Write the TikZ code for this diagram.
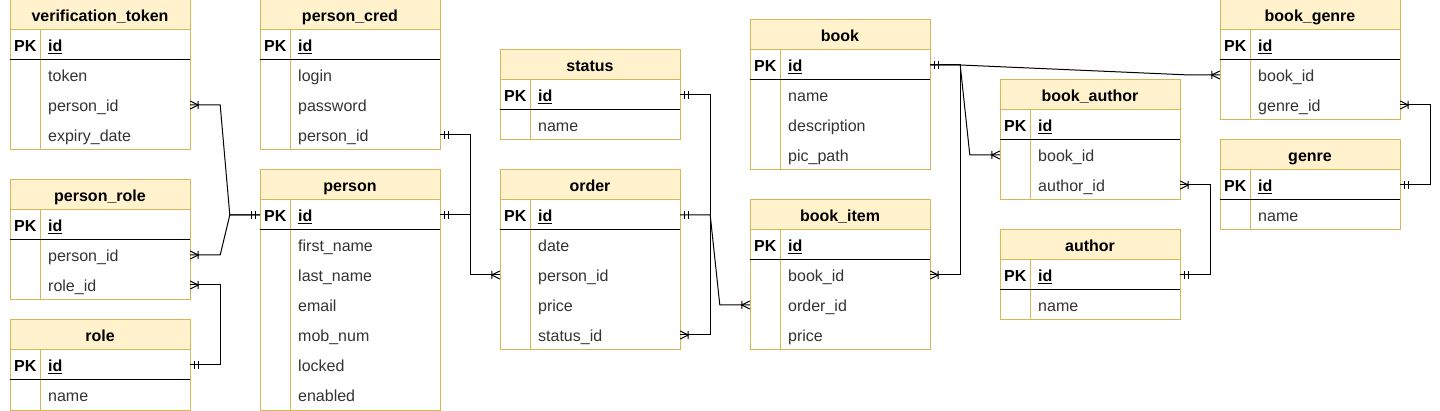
\documentclass[tikz,border=0pt]{standalone}
\usepackage{fontspec}
\setmainfont{Liberation Sans}
\usetikzlibrary{calc,decorations.markings}
\definecolor{hdrfill}{HTML}{FFF2CC}
\definecolor{bdr}{HTML}{D6B656}
\definecolor{fldtxt}{HTML}{333333}
\tikzset{
  hdrbox/.style={rectangle, fill=hdrfill, minimum width=180pt, minimum height=30pt, inner sep=0pt},
  rowbox/.style={rectangle, fill=white, minimum width=180pt, minimum height=30pt, inner sep=0pt},
  ttl/.style={font=\bfseries\fontsize{16}{19}\selectfont, anchor=base, inner sep=0pt, text=black},
  pktxt/.style={font=\bfseries\fontsize{16}{19}\selectfont, anchor=base west, inner sep=0pt, text=black},
  fld/.style={font=\fontsize{16}{19}\selectfont, anchor=base west, inner sep=0pt, text=fldtxt},
  bdline/.style={draw=bdr, line width=1pt},
  pkline/.style={draw=black, line width=1pt},
  conn/.style={draw=black, line width=1pt},
  one start/.style={postaction={decorate, decoration={markings, mark=at position 0 with {\draw[line width=1pt] (4pt,-4pt)--(4pt,4pt) (8pt,-4pt)--(8pt,4pt);}}}},
  many start/.style={postaction={decorate, decoration={markings, mark=at position 0 with {\draw[line width=1pt] (0pt,4pt)--(8pt,0pt)--(0pt,-4pt) (8pt,-4pt)--(8pt,4pt);}}}},
  one end/.style={postaction={decorate, decoration={markings, mark=at position 1 with {\draw[line width=1pt] (-4pt,-4pt)--(-4pt,4pt) (-8pt,-4pt)--(-8pt,4pt);}}}},
  many end/.style={postaction={decorate, decoration={markings, mark=at position 1 with {\draw[line width=1pt] (0pt,4pt)--(-8pt,0pt)--(0pt,-4pt) (-8pt,-4pt)--(-8pt,4pt);}}}},
}
% #1 name, #2 x, #3 y, #4 title
\newcommand\tblhead[4]{%
  \node[hdrbox] (#1) at (#2+90,#3+15) {};
  \node[ttl] (#1-t) at (#2+90,#3+21.5) {#4};
  \node[rowbox] (#1-id) at (#2+90,#3+45) {};
  \node[pktxt] (#1-pk) at (#2+4,#3+51.5) {PK};
  \node[pktxt] (#1-idt) at (#2+38,#3+51.5) {\underline{id}};
}
% #1 name, #2 x, #3 y, #4 index, #5 key, #6 text
\newcommand\tblrow[6]{%
  \node[rowbox] (#1-#5) at (#2+90,#3+45+30*#4) {};
  \node[fld] (#1-#5-t) at (#2+38,#3+51.5+30*#4) {#6};
}
% #1 x, #2 y, #3 number of field rows
\newcommand\tblframe[3]{%
  \draw[bdline] (#1,#2) rectangle (#1+180,#2+60+30*#3);
  \draw[bdline] (#1,#2+30) -- (#1+180,#2+30);
  \draw[bdline] (#1+30,#2+30) -- (#1+30,#2+60+30*#3);
  \draw[pkline] (#1,#2+60) -- (#1+180,#2+60);
}
\begin{document}
\begin{tikzpicture}[x=1pt,y=-1pt]
\useasboundingbox (0,0) rectangle (1440,411);
% verification_token
\tblhead{vt}{10}{0}{verification\_token}
\tblrow{vt}{10}{0}{1}{tok}{token}
\tblrow{vt}{10}{0}{2}{pid}{person\_id}
\tblrow{vt}{10}{0}{3}{exp}{expiry\_date}
\tblframe{10}{0}{3}
% person_cred
\tblhead{pc}{260}{0}{person\_cred}
\tblrow{pc}{260}{0}{1}{login}{login}
\tblrow{pc}{260}{0}{2}{pwd}{password}
\tblrow{pc}{260}{0}{3}{pid}{person\_id}
\tblframe{260}{0}{3}
% person_role
\tblhead{pr}{10}{180}{person\_role}
\tblrow{pr}{10}{180}{1}{pid}{person\_id}
\tblrow{pr}{10}{180}{2}{rid}{role\_id}
\tblframe{10}{180}{2}
% role
\tblhead{role}{10}{320}{role}
\tblrow{role}{10}{320}{1}{name}{name}
\tblframe{10}{320}{1}
% person
\tblhead{p}{260}{170}{person}
\tblrow{p}{260}{170}{1}{fn}{first\_name}
\tblrow{p}{260}{170}{2}{ln}{last\_name}
\tblrow{p}{260}{170}{3}{em}{email}
\tblrow{p}{260}{170}{4}{mob}{mob\_num}
\tblrow{p}{260}{170}{5}{lock}{locked}
\tblrow{p}{260}{170}{6}{en}{enabled}
\tblframe{260}{170}{6}
% status
\tblhead{st}{500}{50}{status}
\tblrow{st}{500}{50}{1}{name}{name}
\tblframe{500}{50}{1}
% order
\tblhead{ord}{500}{170}{order}
\tblrow{ord}{500}{170}{1}{date}{date}
\tblrow{ord}{500}{170}{2}{pid}{person\_id}
\tblrow{ord}{500}{170}{3}{price}{price}
\tblrow{ord}{500}{170}{4}{sid}{status\_id}
\tblframe{500}{170}{4}
% book
\tblhead{bk}{750}{20}{book}
\tblrow{bk}{750}{20}{1}{name}{name}
\tblrow{bk}{750}{20}{2}{desc}{description}
\tblrow{bk}{750}{20}{3}{pic}{pic\_path}
\tblframe{750}{20}{3}
% book_item
\tblhead{bi}{750}{200}{book\_item}
\tblrow{bi}{750}{200}{1}{bid}{book\_id}
\tblrow{bi}{750}{200}{2}{oid}{order\_id}
\tblrow{bi}{750}{200}{3}{price}{price}
\tblframe{750}{200}{3}
% book_author
\tblhead{ba}{1000}{80}{book\_author}
\tblrow{ba}{1000}{80}{1}{bid}{book\_id}
\tblrow{ba}{1000}{80}{2}{aid}{author\_id}
\tblframe{1000}{80}{2}
% author
\tblhead{au}{1000}{230}{author}
\tblrow{au}{1000}{230}{1}{name}{name}
\tblframe{1000}{230}{1}
% book_genre
\tblhead{bg}{1220}{0}{book\_genre}
\tblrow{bg}{1220}{0}{1}{bid}{book\_id}
\tblrow{bg}{1220}{0}{2}{gid}{genre\_id}
\tblframe{1220}{0}{2}
% genre
\tblhead{gn}{1220}{140}{genre}
\tblrow{gn}{1220}{140}{1}{name}{name}
\tblframe{1220}{140}{1}
% connectors
\draw[conn, many start, one end] (vt-pid.east) -- ++(30,0) -- ($(p-id.west)+(-30,0)$) -- (p-id.west);
\draw[conn, many start, one end] (pr-pid.east) -- ++(30,0) -- ($(p-id.west)+(-30,0)$) -- (p-id.west);
\draw[conn, one start, one end] (pc-pid.east) -- ++(30,0) |- (p-id.east);
\draw[conn, one start, many end] (p-id.east) -- ++(30,0) |- (ord-pid.west);
\draw[conn, one start, many end] (role-id.east) -- ++(30,0) |- (pr-rid.east);
\draw[conn, one start, many end] (st-id.east) -- ++(30,0) |- (ord-sid.east);
\draw[conn, one start, many end] (ord-id.east) -- ++(30,0) -- ($(bi-oid.west)+(-30,0)$) -- (bi-oid.west);
\draw[conn, one start, many end] (bk-id.east) -- ++(30,0) |- (bi-bid.east);
\draw[conn, one start, many end] (bk-id.east) -- ++(30,0) -- ($(ba-bid.west)+(-30,0)$) -- (ba-bid.west);
\draw[conn, one start, many end] (bk-id.east) -- ++(30,0) -- ($(bg-bid.west)+(-30,0)$) -- (bg-bid.west);
\draw[conn, one start, many end] (au-id.east) -- ++(30,0) |- (ba-aid.east);
\draw[conn, one start, many end] (gn-id.east) -- ++(30,0) |- (bg-gid.east);
\end{tikzpicture}
\end{document}
